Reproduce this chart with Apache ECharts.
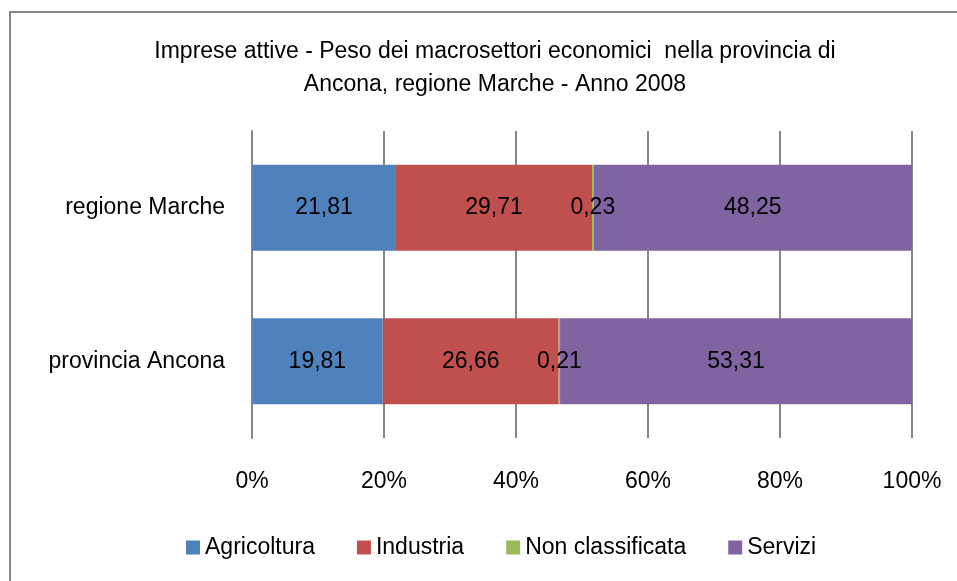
<!DOCTYPE html>
<html lang="it">
<head>
    <meta charset="UTF-8">
    <script src="https://cdn.jsdelivr.net/npm/echarts@6/dist/echarts.min.js"></script>
    <title>Imprese attive</title>
    <style>
        html, body { margin: 0; height: 100%; background: #fff; }
        #container { width: 957px; height: 581px; }
    </style>
</head>
<body>
<div id="container"></div>
<script type="application/javascript">
    // dati (dal basso verso l'alto come nel grafico)
    const categories = ['provincia Ancona', 'regione Marche'];
    const agricoltura = [19.81, 21.81];
    const industria = [26.66, 29.71];
    const nonClassificata = [0.21, 0.23];
    const servizi = [53.31, 48.25];
    const seriesNames = ['Agricoltura', 'Industria', 'Non classificata', 'Servizi'];
    const seriesColors = ['#4F81BD', '#C0504D', '#9BBB59', '#8064A2'];

    const font = 'Liberation Sans, Arial, sans-serif';
    const fs = 23;
    const myChart = echarts.init(document.getElementById('container'), null, {renderer: 'canvas'});

    function makeSeries(name, values, color) {
        return {
            name: name,
            type: 'bar',
            stack: 'total',
            barWidth: 86,
            itemStyle: {color: color},
            label: {
                show: true,
                position: 'inside',
                color: '#000',
                fontFamily: font,
                fontSize: fs,
                formatter: p => p.value.toFixed(2).replace('.', ',')
            },
            data: values
        };
    }

    const valueSets = [agricoltura, industria, nonClassificata, servizi];

    const option = {
        animation: false,
        textStyle: {fontFamily: font},
        title: {
            text: 'Imprese attive - Peso dei macrosettori economici  nella provincia di\nAncona, regione Marche - Anno 2008',
            left: 490,
            textAlign: 'center',
            top: 30,
            textStyle: {fontFamily: font, fontSize: fs, fontWeight: 'normal', color: '#000', lineHeight: 33}
        },
        graphic: [{
            type: 'rect',
            shape: {x: 10, y: 12, width: 1000, height: 1000},
            style: {fill: 'none', stroke: '#888', lineWidth: 2},
            silent: true
        }],
        legend: {
            bottom: 17,
            left: 181,
            itemWidth: 14,
            itemHeight: 14,
            itemGap: 42,
            icon: 'rect',
            textStyle: {fontFamily: font, fontSize: fs, color: '#000'},
            data: seriesNames
        },
        grid: {left: 252, right: 45, top: 131, bottom: 143, containLabel: false},
        xAxis: {
            type: 'value',
            min: 0,
            max: 100,
            interval: 20,
            axisLine: {show: false},
            axisTick: {show: false},
            axisLabel: {
                formatter: '{value}%',
                color: '#000',
                fontFamily: font,
                fontSize: fs,
                margin: 32
            },
            splitLine: {show: true, lineStyle: {color: '#868686', width: 2}}
        },
        yAxis: {
            type: 'category',
            data: categories,
            axisLine: {show: true, lineStyle: {color: '#868686', width: 2}},
            axisTick: {show: false},
            axisLabel: {color: '#000', fontFamily: font, fontSize: fs, margin: 27}
        },
        series: seriesNames.map((n, i) => makeSeries(n, valueSets[i], seriesColors[i]))
    };

    myChart.setOption(option);
</script>
</body>
</html>
